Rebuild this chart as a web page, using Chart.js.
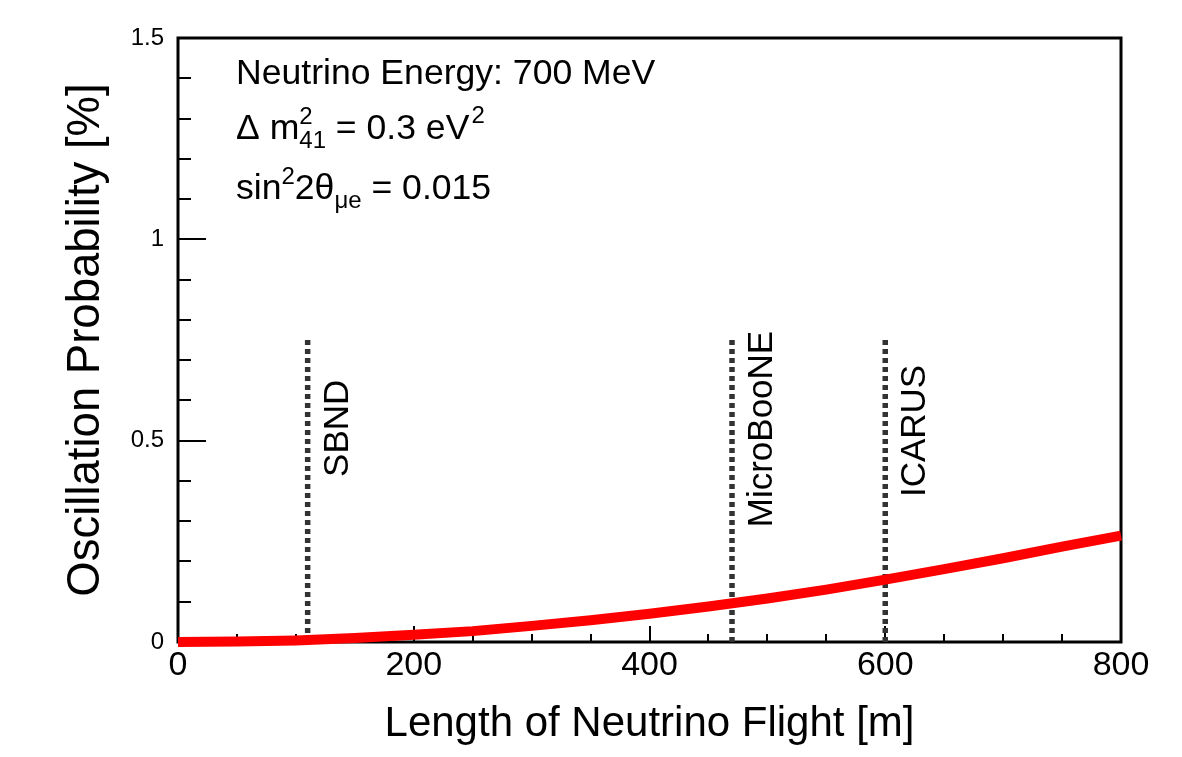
<!DOCTYPE html>
<html><head><meta charset="utf-8">
<script src="https://cdn.jsdelivr.net/npm/chart.js@4/dist/chart.umd.min.js"></script>
<style>html,body{margin:0;padding:0;background:#fff;}#wrap{width:1182px;height:757px;}</style>
</head><body><div id="wrap"><canvas id="c" width="1182" height="757"></canvas></div>
<script>
// ---- data ----
const flightLength = [0, 50, 100, 150, 200, 250, 300, 350, 400, 450, 500, 550, 600, 650, 700, 750, 800];
const oscProb      = [0, 0.001, 0.004, 0.010, 0.018, 0.027, 0.040, 0.054, 0.070, 0.088, 0.108, 0.130, 0.155, 0.181, 0.208, 0.237, 0.264];
const detectorNames = ['SBND', 'MicroBooNE', 'ICARUS'];
const detectorPositions = [110, 470, 600];
const detectorLineTop = 0.75;
const detectorLabelStart = [0.41, 0.285, 0.36];
const xTicks = [0, 200, 400, 600, 800];
const yTicks = [0, 0.5, 1, 1.5];
const xMinorStep = 50;
const yMinorStep = 0.1;
const xTitle = 'Length of Neutrino Flight [m]';
const yTitle = 'Oscillation Probability [%]';

const FONT = '"Liberation Sans", Arial, Helvetica, sans-serif';

const datasets = [{
  data: flightLength.map((x, i) => ({x: x, y: oscProb[i]})),
  borderColor: '#ff0000', borderWidth: 10, pointRadius: 0, tension: 0, clip: false,
  borderCapStyle: 'butt', order: 0
}];
detectorPositions.forEach((p) => {
  datasets.push({
    data: [{x: p, y: 0}, {x: p, y: detectorLineTop}],
    borderColor: '#333333', borderWidth: 5.5, borderDash: [5, 4], pointRadius: 0,
    borderCapStyle: 'butt', clip: false, order: 1
  });
});

function drawParts(ctx, x, y, parts) {
  let cx = x;
  parts.forEach(p => {
    if (p.stack) {
      let w = 0;
      p.stack.forEach(s => {
        ctx.font = s.size + 'px ' + FONT;
        ctx.fillText(s.t, cx, y + s.dy);
        w = Math.max(w, ctx.measureText(s.t).width);
      });
      cx += w + (p.after || 0);
    } else {
      ctx.font = p.size + 'px ' + FONT;
      ctx.fillText(p.t, cx, y + (p.dy || 0));
      cx += ctx.measureText(p.t).width + (p.after || 0);
    }
  });
}

const framePlugin = {
  id: 'frame',
  beforeDatasetsDraw(chart) {
    const ctx = chart.ctx, a = chart.chartArea, xs = chart.scales.x, ys = chart.scales.y;
    ctx.save();
    ctx.strokeStyle = '#000';
    ctx.lineWidth = 2;
    for (let v = xs.min; v <= xs.max + 1e-9; v += xMinorStep) {
      const px = Math.round(xs.getPixelForValue(v));
      const major = xTicks.some(t => Math.abs(t - v) < 1e-6);
      ctx.beginPath(); ctx.moveTo(px, a.bottom); ctx.lineTo(px, a.bottom - (major ? 16 : 8)); ctx.stroke();
    }
    for (let i = 0; i * yMinorStep <= ys.max + 1e-9; i++) {
      const v = i * yMinorStep;
      const py = Math.round(ys.getPixelForValue(v));
      const major = yTicks.some(t => Math.abs(t - v) < 1e-6);
      ctx.beginPath(); ctx.moveTo(a.left, py); ctx.lineTo(a.left + (major ? 28 : 13), py); ctx.stroke();
    }
    ctx.lineWidth = 3;
    ctx.strokeRect(a.left, a.top, a.right - a.left, a.bottom - a.top);
    ctx.fillStyle = '#000';
    ctx.font = '42px ' + FONT;
    ctx.textAlign = 'center'; ctx.textBaseline = 'alphabetic';
    ctx.fillText(xTitle, (a.left + a.right) / 2, 736);
    ctx.save();
    ctx.translate(99, (a.top + a.bottom) / 2);
    ctx.rotate(-Math.PI / 2);
    ctx.font = '45.5px ' + FONT;
    ctx.fillText(yTitle, 0, 0);
    ctx.restore();
    ctx.restore();
  },
  afterDatasetsDraw(chart) {
    const ctx = chart.ctx, xs = chart.scales.x, ys = chart.scales.y;
    ctx.save();
    ctx.fillStyle = '#000';
    ctx.textAlign = 'left'; ctx.textBaseline = 'alphabetic';
    detectorNames.forEach((n, i) => {
      const px = xs.getPixelForValue(detectorPositions[i]) + 40;
      const py = ys.getPixelForValue(detectorLabelStart[i]);
      ctx.save();
      ctx.translate(px, py);
      ctx.rotate(-Math.PI / 2);
      ctx.font = '35px ' + FONT;
      ctx.fillText(n, 0, 0);
      ctx.restore();
    });
    const x0 = 236;
    drawParts(ctx, x0, 84, [{t: 'Neutrino Energy: 700 MeV', size: 35.6}]);
    drawParts(ctx, x0, 139, [
      {t: '\u0394 m', size: 35.6},
      {stack: [{t: '2', size: 24, dy: -15}, {t: '41', size: 24, dy: 9}]},
      {t: ' = 0.3 eV', size: 35.6, after: 2},
      {t: '2', size: 24, dy: -16}
    ]);
    drawParts(ctx, x0, 199, [
      {t: 'sin', size: 35.6},
      {t: '2', size: 24, dy: -15},
      {t: '2\u03b8', size: 35.6},
      {t: '\u03bce', size: 24, dy: 9},
      {t: ' = 0.015', size: 35.6}
    ]);
    ctx.restore();
  }
};

new Chart(document.getElementById('c'), {
  type: 'line',
  data: {datasets: datasets},
  options: {
    responsive: false, animation: false, devicePixelRatio: 1,
    layout: {padding: {left: 0, right: 61, top: 38, bottom: 0}},
    plugins: {legend: {display: false}, tooltip: {enabled: false}},
    scales: {
      x: {
        type: 'linear', min: 0, max: 800,
        afterBuildTicks: s => { s.ticks = xTicks.map(v => ({value: v})); },
        ticks: {font: {family: FONT, size: 34}, color: '#000', padding: 3, maxRotation: 0, autoSkip: false,
                callback: v => String(v)},
        grid: {display: false, drawTicks: false},
        border: {display: false},
        afterFit: s => { s.height = 115; }
      },
      y: {
        type: 'linear', min: 0, max: 1.5,
        afterBuildTicks: s => { s.ticks = yTicks.map(v => ({value: v})); },
        ticks: {font: {family: FONT, size: 24}, color: '#000', padding: 14, autoSkip: false,
                callback: v => String(v)},
        grid: {display: false, drawTicks: false},
        border: {display: false},
        afterFit: s => { s.height = s.height; s.width = 178; }
      }
    }
  },
  plugins: [framePlugin]
});
</script>
</body></html>
